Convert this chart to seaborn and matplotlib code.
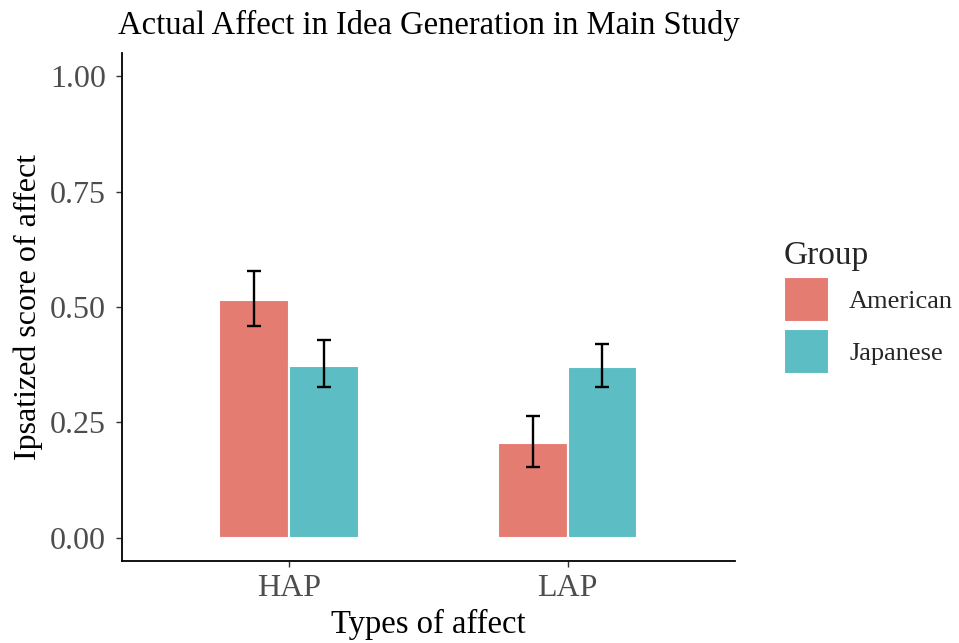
import numpy as np
import pandas as pd
import matplotlib
matplotlib.use('Agg')
import matplotlib.pyplot as plt
from matplotlib.patches import Patch
import seaborn as sns

# valores
affect_types = ['HAP', 'LAP']
groups = ['American', 'Japanese']
means_american = [0.515, 0.205]
means_japanese = [0.373, 0.371]
lower_american = [0.458, 0.153]
upper_american = [0.579, 0.265]
lower_japanese = [0.326, 0.326]
upper_japanese = [0.429, 0.421]
y_ticks = [0.00, 0.25, 0.50, 0.75, 1.00]

colors = {'American': '#E47C72', 'Japanese': '#5CBDC4'}

df = pd.DataFrame({
    'affect': affect_types * 2,
    'group': ['American'] * 2 + ['Japanese'] * 2,
    'score': means_american + means_japanese,
    'lower': lower_american + lower_japanese,
    'upper': upper_american + upper_japanese,
})

sns.set_theme(style='white')
plt.rcParams['font.family'] = ['Liberation Serif', 'DejaVu Serif']

fig = plt.figure(figsize=(9.59, 6.43), dpi=100)
ax = fig.add_axes([0.1272, 0.1275, 0.639, 0.790])

sns.barplot(data=df, x='affect', y='score', hue='group', order=affect_types,
            hue_order=groups, palette=colors, saturation=1, width=0.5,
            edgecolor='white', linewidth=1.5, errorbar=None, legend=False, ax=ax)

# barras de error
offsets = {'American': -0.125, 'Japanese': 0.125}
for g in groups:
    sub = df[df['group'] == g]
    xs = [affect_types.index(a) + offsets[g] for a in sub['affect']]
    yerr = [sub['score'] - sub['lower'], sub['upper'] - sub['score']]
    ax.errorbar(xs, sub['score'], yerr=yerr, fmt='none', ecolor='black',
                elinewidth=1.7, capsize=5, capthick=1.7)

ax.set_xlim(-0.6, 1.6)
ax.set_ylim(-0.05, 1.05)
ax.set_yticks(y_ticks)
ax.set_yticklabels([f'{t:.2f}' for t in y_ticks])

for s in ['top', 'right']:
    ax.spines[s].set_visible(False)
for s in ['left', 'bottom']:
    ax.spines[s].set_color('black')
    ax.spines[s].set_linewidth(1.3)

ax.tick_params(axis='both', which='both', direction='out', length=4.5, width=1.0,
               color='#333333', labelcolor='#4D4D4D', labelsize=23,
               left=True, bottom=True)
ax.tick_params(axis='y', pad=7)
ax.tick_params(axis='x', pad=5)

ax.set_xlabel('Types of affect', fontsize=23.5, color='black', labelpad=4)
ax.set_ylabel('Ipsatized score of affect', fontsize=23, color='black', labelpad=5)
ax.set_title('Actual Affect in Idea Generation in Main Study', fontsize=23.5,
             color='black', pad=14, loc='center', x=0.5)

handles = [Patch(facecolor=colors[g], edgecolor='white', linewidth=1.5) for g in groups]
fig.legend(handles, groups, title='Group', loc='upper left',
           bbox_to_anchor=(0.806, 0.643), frameon=False, fontsize=19,
           title_fontsize=24, handlelength=1.74, handleheight=2.25,
           labelspacing=0.25, handletextpad=0.75, alignment='left',
           borderaxespad=0)

fig.savefig('out.png', dpi=100)
